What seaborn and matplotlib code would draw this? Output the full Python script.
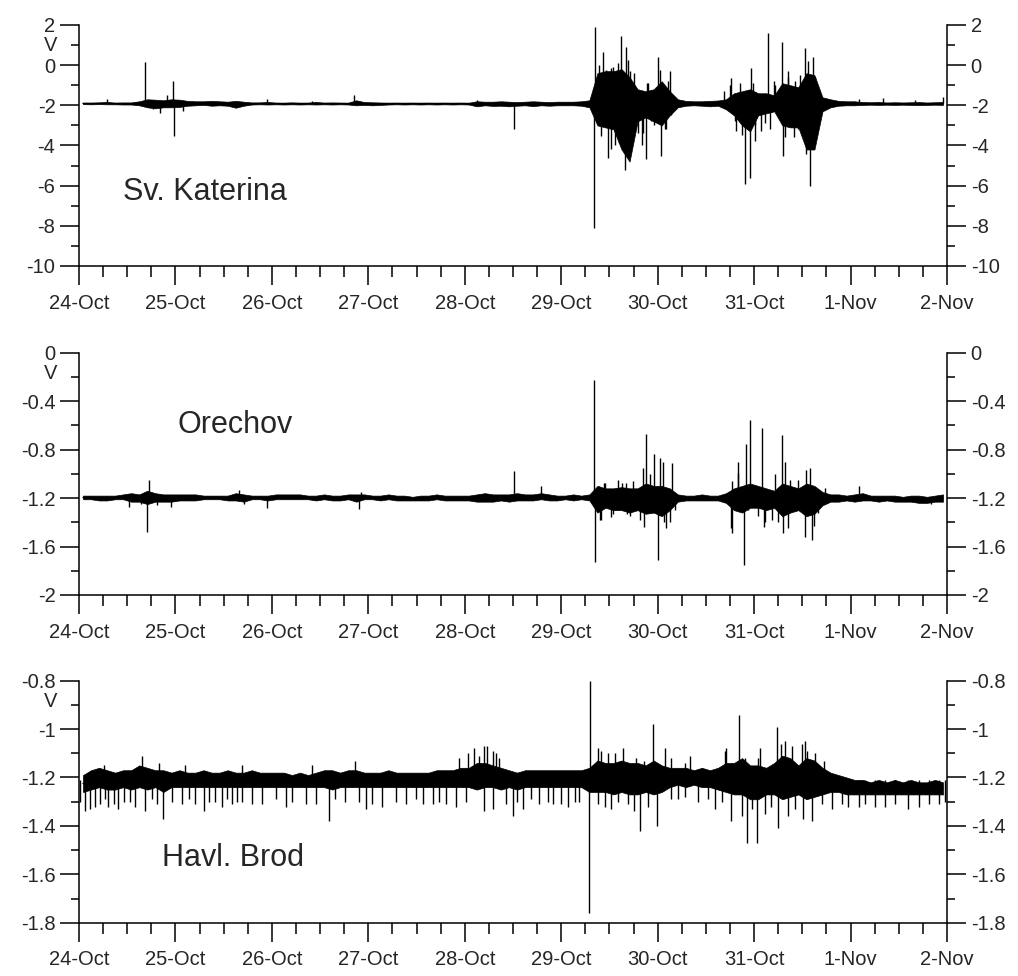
import numpy as np
import pandas as pd
import seaborn as sns
import matplotlib.pyplot as plt
from matplotlib.ticker import MultipleLocator, FuncFormatter

sns.set_style("ticks")
plt.rcParams['font.family'] = ['Liberation Sans', 'DejaVu Sans']
plt.rcParams['axes.unicode_minus'] = False

# x axis: hours since 24-Oct 00:00, one label per day
day_labels = ["24-Oct", "25-Oct", "26-Oct", "27-Oct", "28-Oct",
              "29-Oct", "30-Oct", "31-Oct", "1-Nov", "2-Nov"]
stations = ["Sv. Katerina", "Orechov", "Havl. Brod"]

# dense noise band: upper / lower edge in 2-hour bins (12 per day)
katerina_hi = [
    -1.87, -1.87, -1.86, -1.84, -1.87, -1.86, -1.86, -1.80, -1.70, -1.72, -1.75, -1.70,
    -1.72, -1.78, -1.80, -1.80, -1.78, -1.80, -1.82, -1.78, -1.82, -1.86, -1.86, -1.84,
    -1.87, -1.87, -1.86, -1.87, -1.87, -1.84, -1.87, -1.86, -1.87, -1.87, -1.75, -1.84,
    -1.85, -1.86, -1.87, -1.87, -1.87, -1.87, -1.87, -1.87, -1.87, -1.87, -1.87, -1.87,
    -1.87, -1.80, -1.82, -1.82, -1.80, -1.82, -1.84, -1.82, -1.80, -1.82, -1.84, -1.82,
    -1.82, -1.82, -1.80, -1.75, -0.40, -0.30, -0.30, -0.20, -0.60, -1.20, -1.30, -1.20,
    -0.80, -1.30, -1.70, -1.78, -1.80, -1.80, -1.78, -1.76, -1.70, -1.40, -1.30, -1.20,
    -1.40, -1.40, -1.50, -0.90, -1.00, -1.10, -0.40, -0.50, -1.60, -1.70, -1.78, -1.80,
    -1.80, -1.84, -1.85, -1.84, -1.86, -1.85, -1.86, -1.85, -1.84, -1.86, -1.85, -1.84,
]
katerina_lo = [
    -1.94, -1.95, -1.94, -1.95, -1.95, -1.96, -1.96, -2.00, -2.10, -2.15, -2.10, -2.10,
    -2.08, -2.02, -2.00, -1.98, -2.02, -2.00, -2.02, -2.12, -2.02, -1.96, -1.95, -1.96,
    -1.95, -1.96, -1.95, -1.96, -1.95, -1.96, -1.95, -1.96, -1.95, -1.96, -2.00, -1.98,
    -2.00, -1.98, -1.96, -1.95, -1.96, -1.95, -1.96, -1.95, -1.96, -1.95, -1.96, -1.95,
    -1.96, -2.05, -2.00, -2.03, -2.02, -2.05, -2.02, -2.00, -2.04, -2.00, -2.02, -2.00,
    -2.00, -2.00, -2.02, -2.10, -3.00, -3.10, -3.20, -4.20, -4.80, -2.80, -2.60, -2.80,
    -3.00, -2.50, -2.10, -2.02, -2.00, -2.02, -2.05, -2.02, -2.20, -2.50, -3.00, -3.30,
    -2.50, -2.40, -2.30, -3.00, -3.10, -3.10, -4.20, -4.20, -2.30, -2.10, -2.02, -2.00,
    -2.00, -1.98, -1.97, -1.98, -1.97, -1.98, -1.97, -1.98, -1.99, -1.98, -1.97, -1.98,
]
# spikes sticking out of the band (hour, tip value in V)
katerina_spike_hours = [
    6.9, 16.5, 18.5, 20.2, 22.0, 23.4, 23.6, 26.0, 46.8, 58.0, 68.4, 99.0, 108.3,
    128.1, 128.3, 129.9, 130.3, 131.6, 132.5, 133.4, 134.9, 135.8, 136.2, 137.0,
    138.2, 139.0, 140.0, 141.1, 141.3, 143.2, 144.0, 144.9, 146.0, 147.0, 147.4,
    160.6, 162.3, 163.5, 165.6, 166.9, 167.2, 168.2, 169.8, 171.5, 171.9, 173.0,
    175.0, 175.2, 176.5, 178.0, 179.5, 180.6, 180.8, 181.8, 182.7, 184.0,
    194.0, 200.0, 208.0, 215.0,
    129.3, 131.2, 132.4, 132.9, 134.0, 134.3, 136.6, 137.0, 138.4, 140.3,
    141.6, 142.4, 144.5, 145.7, 146.6,
    162.0, 163.2, 164.5, 164.9, 167.8, 168.2, 170.7, 173.2, 175.6, 176.5,
    178.1, 179.0, 181.5, 182.3, 183.2, 184.0,
]
katerina_spike_volts = [
    -1.7, 0.17, -2.2, -2.4, -1.5, -0.77, -3.52, -2.3, -1.7, -1.78, -1.5, -1.72, -3.2,
    -8.1, 1.9, -3.55, 0.67, -4.6, -0.15, -4.0, 1.45, -5.2, 0.9, -0.3,
    -0.4, -3.4, -4.0, -4.65, -0.9, -3.0, 0.4, -4.5, -3.2, -0.3, -2.5,
    -1.3, -0.65, -3.3, -5.9, -5.6, -0.15, -3.0, -3.3, 1.6, -3.2, -0.8,
    1.17, -4.5, -0.6, -3.6, -0.5, 0.84, -4.4, -6.0, 0.4, -2.6,
    -1.7, -1.65, -1.72, -1.6,
    0.0, -0.25, -4.2, -0.1, 0.1, -3.9, 0.27, -3.2, -2.6, -3.4,
    -0.9, -2.8, -0.25, -3.2, -0.8,
    -1.0, -2.8, -0.9, -3.5, -0.9, -3.8, -2.9, -1.0, -3.6, -0.3,
    -0.8, -3.2, 0.2, -4.0, -0.6, -3.0,
]

orechov_hi = [
    -1.18, -1.18, -1.18, -1.18, -1.18, -1.17, -1.16, -1.17, -1.14, -1.16, -1.17, -1.17,
    -1.17, -1.17, -1.17, -1.18, -1.18, -1.18, -1.18, -1.16, -1.17, -1.18, -1.18, -1.18,
    -1.17, -1.17, -1.17, -1.17, -1.18, -1.18, -1.17, -1.18, -1.18, -1.17, -1.17, -1.17,
    -1.18, -1.18, -1.17, -1.18, -1.18, -1.19, -1.18, -1.18, -1.17, -1.18, -1.18, -1.18,
    -1.18, -1.17, -1.16, -1.17, -1.17, -1.17, -1.16, -1.17, -1.17, -1.16, -1.17, -1.18,
    -1.18, -1.17, -1.18, -1.17, -1.10, -1.12, -1.12, -1.11, -1.12, -1.12, -1.08, -1.10,
    -1.10, -1.12, -1.17, -1.18, -1.18, -1.17, -1.18, -1.18, -1.16, -1.12, -1.10, -1.08,
    -1.10, -1.12, -1.14, -1.08, -1.10, -1.12, -1.08, -1.10, -1.15, -1.17, -1.17, -1.18,
    -1.17, -1.16, -1.18, -1.18, -1.18, -1.18, -1.19, -1.18, -1.18, -1.19, -1.18, -1.17,
]
orechov_lo = [
    -1.21, -1.21, -1.22, -1.22, -1.21, -1.21, -1.23, -1.23, -1.25, -1.23, -1.23, -1.23,
    -1.22, -1.22, -1.22, -1.21, -1.21, -1.21, -1.22, -1.22, -1.23, -1.21, -1.21, -1.22,
    -1.21, -1.21, -1.21, -1.21, -1.21, -1.22, -1.21, -1.22, -1.22, -1.21, -1.23, -1.21,
    -1.21, -1.22, -1.21, -1.22, -1.22, -1.22, -1.22, -1.22, -1.21, -1.22, -1.22, -1.22,
    -1.22, -1.23, -1.23, -1.23, -1.22, -1.23, -1.22, -1.22, -1.22, -1.21, -1.22, -1.22,
    -1.21, -1.22, -1.21, -1.22, -1.32, -1.28, -1.30, -1.30, -1.32, -1.30, -1.33, -1.32,
    -1.35, -1.30, -1.23, -1.22, -1.22, -1.22, -1.22, -1.22, -1.24, -1.30, -1.32, -1.28,
    -1.28, -1.30, -1.28, -1.35, -1.32, -1.30, -1.35, -1.33, -1.26, -1.23, -1.23, -1.22,
    -1.23, -1.22, -1.22, -1.23, -1.22, -1.23, -1.23, -1.23, -1.24, -1.24, -1.23, -1.23,
]
orechov_spike_hours = [
    12.5, 15.5, 16.9, 17.5, 19.5, 23.0, 39.7, 41.0, 46.8, 69.7,
    70.2, 108.3, 115.0, 128.1, 128.5, 130.0, 131.0, 133.0, 135.0, 137.0,
    139.0, 140.6, 141.0, 143.0, 144.0, 144.5, 145.5, 147.0, 147.5, 162.5,
    162.6, 164.0, 165.5, 166.5, 167.0, 169.9, 170.5, 172.5, 175.0, 175.3,
    177.0, 180.6, 181.0, 183.0, 194.0, 212.0,
    129.5, 129.6, 130.7, 132.4, 134.1, 136.2, 136.3, 137.8, 139.5, 140.3,
    142.0, 145.3, 146.1, 148.2,
    162.3, 163.9, 166.0, 168.9, 170.6, 173.1, 173.9, 175.6, 176.5, 179.0,
    181.9, 182.3, 184.0, 185.6,
]
orechov_spike_volts = [
    -1.27, -1.25, -1.48, -1.05, -1.26, -1.27, -1.13, -1.25, -1.28, -1.29,
    -1.15, -0.98, -1.10, -0.23, -1.73, -1.38, -1.08, -1.33, -1.08, -1.35,
    -1.30, -1.44, -0.67, -0.84, -1.71, -0.87, -1.40, -1.40, -0.91, -1.06,
    -1.49, -0.99, -1.75, -1.30, -0.56, -0.62, -1.44, -1.38, -0.68, -1.49,
    -1.05, -1.52, -0.97, -1.43, -1.10, -1.25,
    -1.10, -1.38, -1.08, -1.36, -1.05, -1.08, -1.33, -1.06, -1.38, -0.95,
    -1.00, -0.90, -1.45, -1.30,
    -1.45, -0.90, -0.75, -1.35, -1.40, -1.00, -1.40, -0.90, -1.45, -1.05,
    -0.95, -1.55, -1.32, -1.12,
]

havl_hi = [
    -1.19, -1.17, -1.16, -1.17, -1.18, -1.17, -1.17, -1.15, -1.16, -1.17, -1.17, -1.18,
    -1.17, -1.18, -1.18, -1.17, -1.18, -1.18, -1.17, -1.18, -1.18, -1.17, -1.18, -1.18,
    -1.18, -1.18, -1.19, -1.18, -1.19, -1.18, -1.17, -1.17, -1.18, -1.17, -1.17, -1.18,
    -1.18, -1.18, -1.17, -1.18, -1.18, -1.18, -1.18, -1.18, -1.17, -1.17, -1.17, -1.16,
    -1.16, -1.14, -1.14, -1.15, -1.16, -1.17, -1.18, -1.17, -1.17, -1.17, -1.17, -1.17,
    -1.17, -1.17, -1.17, -1.16, -1.13, -1.14, -1.14, -1.13, -1.14, -1.14, -1.15, -1.13,
    -1.15, -1.16, -1.16, -1.16, -1.17, -1.16, -1.17, -1.16, -1.14, -1.14, -1.12, -1.15,
    -1.15, -1.16, -1.14, -1.11, -1.12, -1.15, -1.12, -1.13, -1.16, -1.18, -1.19, -1.20,
    -1.21, -1.21, -1.22, -1.21, -1.22, -1.21, -1.22, -1.21, -1.22, -1.22, -1.21, -1.22,
]
havl_lo = [
    -1.26, -1.25, -1.24, -1.25, -1.25, -1.24, -1.25, -1.24, -1.25, -1.24, -1.26, -1.24,
    -1.24, -1.24, -1.24, -1.24, -1.24, -1.24, -1.24, -1.24, -1.24, -1.24, -1.24, -1.24,
    -1.24, -1.24, -1.24, -1.24, -1.24, -1.24, -1.24, -1.25, -1.24, -1.24, -1.24, -1.24,
    -1.24, -1.24, -1.24, -1.24, -1.24, -1.24, -1.24, -1.24, -1.24, -1.24, -1.24, -1.24,
    -1.24, -1.25, -1.24, -1.24, -1.25, -1.24, -1.25, -1.24, -1.24, -1.24, -1.24, -1.24,
    -1.24, -1.24, -1.24, -1.26, -1.26, -1.26, -1.27, -1.26, -1.27, -1.27, -1.26, -1.27,
    -1.26, -1.24, -1.23, -1.24, -1.23, -1.24, -1.24, -1.25, -1.26, -1.27, -1.27, -1.29,
    -1.29, -1.27, -1.27, -1.29, -1.28, -1.27, -1.29, -1.28, -1.27, -1.26, -1.26, -1.27,
    -1.27, -1.27, -1.27, -1.27, -1.27, -1.27, -1.27, -1.27, -1.27, -1.27, -1.27, -1.27,
]
havl_spike_hours = [
    1.5, 2.7, 5.2, 7.3, 9.8, 12.7, 16.5, 21.0, 25.6, 31.0,
    33.9, 38.1, 40.6, 43.1, 51.4, 56.4, 62.2, 66.3, 71.3, 75.5,
    81.3, 88.0, 91.3, 100.8, 107.9, 110.4, 114.5, 117.9, 121.6, 124.5,
    126.9, 129.1, 136.6, 139.7, 143.8, 149.1, 154.0, 158.2, 162.2, 166.1,
    168.8, 174.0, 180.2, 187.3, 194.0, 198.1, 206.4, 213.9,
    6.2, 15.6, 19.8, 26.4, 40.6, 58.0, 68.8, 94.6, 100.8, 102.9,
    127.2, 129.1, 135.3, 142.9, 145.7, 152.0, 161.1, 164.2, 169.4, 173.8,
    175.6, 179.8, 181.1, 185.3,
    0.3, 4.0, 6.5, 8.6, 11.1, 14.0, 18.1, 19.4, 23.1, 27.3,
    28.9, 32.3, 35.6, 36.8, 39.3, 45.6, 48.9, 53.0, 58.9, 63.8,
    69.7, 73.0, 78.8, 83.8, 85.5, 89.6, 93.8, 96.3, 102.9, 106.2,
    109.1, 112.5, 116.6, 119.9, 123.3, 130.8, 132.4, 134.1, 138.2, 141.6,
    147.4, 150.7, 156.6, 159.9, 164.9, 167.4, 170.7, 172.3, 176.5, 178.1,
    182.3, 184.8, 189.8, 191.4, 195.6, 200.6, 203.1, 208.9, 211.4, 215.6,
    129.9, 131.6, 133.3, 138.7, 140.7, 147.4, 150.7, 160.7, 165.7, 169.0,
    174.8, 177.3, 180.6, 183.1,
    96.8, 98.2, 99.5, 101.5, 103.8, 104.6,
]
havl_spike_volts = [
    -1.34, -1.33, -1.31, -1.32, -1.33, -1.30, -1.34, -1.37, -1.31, -1.34,
    -1.30, -1.31, -1.30, -1.31, -1.32, -1.31, -1.38, -1.30, -1.33, -1.32,
    -1.31, -1.31, -1.31, -1.34, -1.36, -1.33, -1.31, -1.31, -1.32, -1.30,
    -1.76, -1.31, -1.31, -1.42, -1.40, -1.29, -1.30, -1.33, -1.38, -1.47,
    -1.47, -1.41, -1.37, -1.33, -1.32, -1.32, -1.33, -1.31,
    -1.15, -1.11, -1.14, -1.15, -1.15, -1.15, -1.13, -1.12, -1.07, -1.09,
    -0.80, -1.08, -1.08, -0.98, -1.08, -1.11, -1.08, -0.94, -1.08, -0.99,
    -1.05, -1.06, -1.09, -1.13,
    -1.30, -1.32, -1.29, -1.31, -1.30, -1.32, -1.29, -1.31, -1.30, -1.29,
    -1.31, -1.30, -1.32, -1.29, -1.30, -1.31, -1.29, -1.30, -1.31, -1.29,
    -1.30, -1.31, -1.30, -1.29, -1.31, -1.30, -1.32, -1.30, -1.33, -1.31,
    -1.30, -1.29, -1.30, -1.31, -1.30, -1.32, -1.33, -1.30, -1.34, -1.32,
    -1.29, -1.28, -1.29, -1.30, -1.36, -1.33, -1.35, -1.32, -1.36, -1.33,
    -1.38, -1.31, -1.31, -1.32, -1.31, -1.32, -1.31, -1.32, -1.31, -1.30,
    -1.09, -1.10, -1.10, -1.12, -1.13, -1.12, -1.14, -1.09, -1.12, -1.12,
    -1.06, -1.07, -1.05, -1.10,
    -1.10, -1.08, -1.11, -1.07, -1.10, -1.12,
]

# per panel: y range, major / minor step, resting level the spikes start from
y_limits = [(-10, 2), (-2, 0), (-1.8, -0.8)]
y_major = [2, 0.4, 0.2]
y_minor = [1, 0.2, 0.1]
baselines = [-1.9, -1.2, -1.21]
label_pos = [(0.051, 0.307), (0.113, 0.70), (0.096, 0.267)]

bands = [(katerina_hi, katerina_lo), (orechov_hi, orechov_lo), (havl_hi, havl_lo)]
spikes = [(katerina_spike_hours, katerina_spike_volts),
          (orechov_spike_hours, orechov_spike_volts),
          (havl_spike_hours, havl_spike_volts)]


def band_frame(hi, lo):
    t = np.arange(len(hi)) * 2.0 + 1.0
    return pd.DataFrame({"hour": np.concatenate([t, t]),
                         "volt": np.concatenate([hi, lo])})


fig = plt.figure(figsize=(10.18, 9.76), dpi=100)
rects = [[0.0776, 0.7275, 0.8527, 0.2469],
         [0.0776, 0.3904, 0.8527, 0.2483],
         [0.0776, 0.0546, 0.8527, 0.2480]]

fmt = FuncFormatter(lambda v, pos: f"{round(v, 6) + 0.0:g}")

for i in range(3):
    ax = fig.add_axes(rects[i])
    df = band_frame(*bands[i])
    # min..max band of the noise plus its mean line
    sns.lineplot(data=df, x="hour", y="volt", ax=ax, color="black", lw=1.0,
                 estimator="mean", errorbar=("pi", 100),
                 err_kws={"alpha": 1, "lw": 0.5})
    sh, sv = spikes[i]
    ax.vlines(sh, baselines[i], sv, color="black", lw=1.0)

    ax.set_xlim(0, 216)
    ax.set_ylim(*y_limits[i])
    ax.set_xticks(np.arange(len(day_labels)) * 24)
    ax.set_xticklabels(day_labels)
    ax.xaxis.set_minor_locator(MultipleLocator(6))
    ax.yaxis.set_major_locator(MultipleLocator(y_major[i]))
    ax.yaxis.set_minor_locator(MultipleLocator(y_minor[i]))
    ax.yaxis.set_major_formatter(fmt)
    ax.set_xlabel("")
    ax.set_ylabel("")
    ax.spines["top"].set_visible(False)
    for s in ["left", "right", "bottom"]:
        ax.spines[s].set_visible(True)
        ax.spines[s].set_linewidth(1.1)
        ax.spines[s].set_color("black")
    ax.tick_params(axis="y", which="both", direction="out", left=True,
                   right=True, labelleft=True, labelright=True,
                   labelsize=14.5, width=1.1, color="black")
    ax.tick_params(axis="y", which="major", length=14, pad=3)
    ax.tick_params(axis="y", which="minor", length=6)
    ax.tick_params(axis="x", which="both", direction="out", width=1.1,
                   labelsize=14.5, color="black")
    ax.tick_params(axis="x", which="major", length=14, pad=6)
    ax.tick_params(axis="x", which="minor", length=8)
    ax.text(-0.025, 0.915, "V", transform=ax.transAxes, ha="right",
            va="center", fontsize=14.5)
    ax.text(label_pos[i][0], label_pos[i][1], stations[i],
            transform=ax.transAxes, ha="left", va="center", fontsize=22)

fig.savefig("out.png", dpi=100)
